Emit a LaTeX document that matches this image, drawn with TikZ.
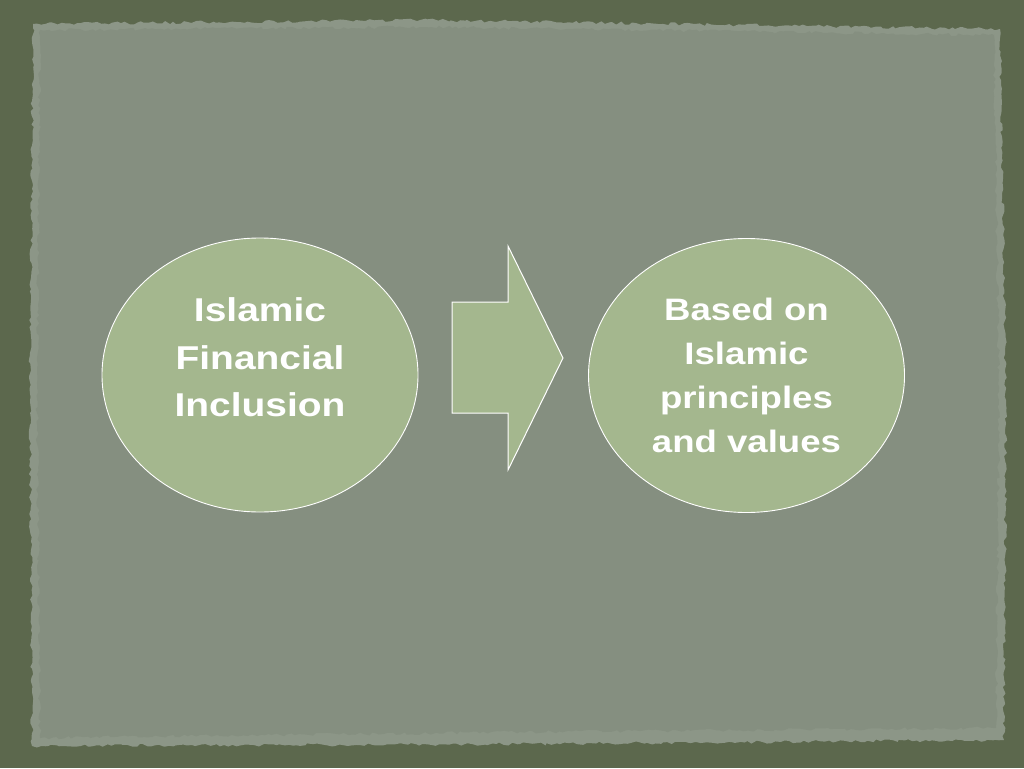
\documentclass[tikz,border=0pt]{standalone}
\usepackage{fontspec}
\newfontfamily\slidefont[FakeStretch=1.18]{Liberation Sans}
\usetikzlibrary{shapes.geometric,decorations.pathmorphing}
\definecolor{borderol}{HTML}{5C684D}
\definecolor{paper}{HTML}{858F80}
\definecolor{paperrim}{HTML}{8C9687}
\definecolor{sage}{HTML}{A4B78E}
\tikzset{
  bubble/.style={ellipse, draw=white, line width=0.9pt, fill=sage,
    minimum width=316pt, minimum height=274pt, inner sep=0pt},
  lefttext/.style={text=white, align=center,
    font=\slidefont\bfseries\fontsize{33}{47.5}\selectfont},
  righttext/.style={text=white, align=center,
    font=\slidefont\bfseries\fontsize{31}{44}\selectfont},
  blockarrow/.style={draw=white, line width=1pt, fill=sage, line join=miter},
  rough/.style={decorate, decoration={random steps, segment length=4pt, amplitude=1.6pt}}
}
\begin{document}
\begin{tikzpicture}[x=1pt,y=-1pt]
\pgfmathsetseed{7}
\useasboundingbox (0,0) rectangle (1024,768);
\fill[borderol] (0,0) rectangle (1024,768);
% paper with rough edges
\fill[paperrim, rough] (33,24) -- (420,20) -- (1000,29) -- (1006,400) -- (1004,740)
  -- (520,744) -- (32,746) -- (30,400) -- cycle;
\fill[paper, rough] (40,30) -- (420,27) -- (994,35) -- (999,400) -- (996,728)
  -- (520,732) -- (40,738) -- (37,400) -- cycle;
% ellipses
\node[bubble] (left) at (260,375) {};
\node[bubble] (right) at (746.5,375.5) {};
\node[lefttext] (lefttxt) at (260,357.5) {Islamic\\Financial\\Inclusion};
\node[righttext] (righttxt) at (746.5,375) {Based on\\Islamic\\principles\\and values};
% block arrow
\draw[blockarrow] (452,302) -- (508,302) -- (508,246) -- (563,358) -- (508,470)
  -- (508,413) -- (452,413) -- cycle;
\end{tikzpicture}
\end{document}
